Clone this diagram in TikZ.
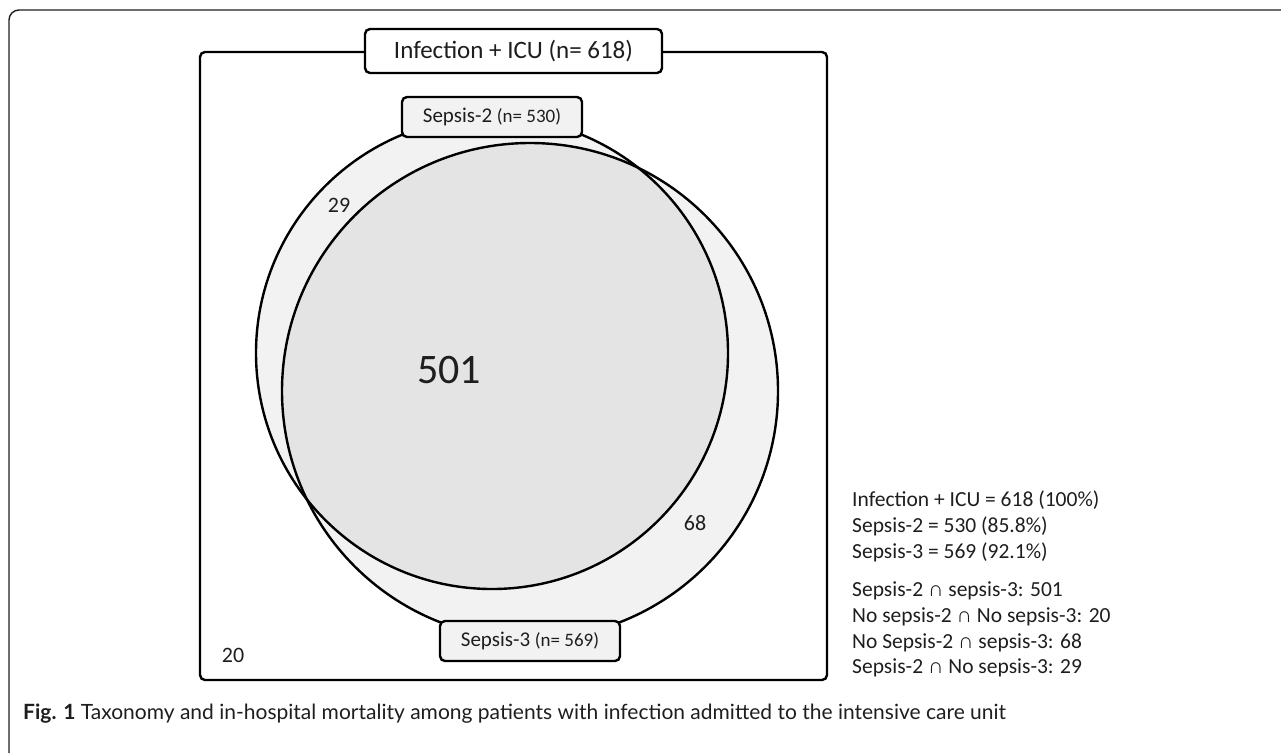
\documentclass[tikz,border=0pt]{standalone}
\usepackage{fontspec}
\setmainfont{Carlito}
\newfontfamily\capfont{Liberation Sans}
\newfontfamily\captionfont{Lato}
\usetikzlibrary{positioning}
\definecolor{unionfill}{HTML}{F2F2F2}
\definecolor{capfill}{HTML}{E4E4E4}
\definecolor{inkgray}{HTML}{1E1E1E}
\newcommand{\fsz}[1]{\fontsize{#1}{1.2\dimexpr#1pt\relax}\selectfont}
\newcommand{\capsym}{{\capfont\char"2229}}

\begin{document}
\begin{tikzpicture}[x=1pt,y=-1pt,
  every node/.style={text=inkgray},
  boxline/.style={draw=black,line width=2.4pt,rounded corners=5pt},
  setbox/.style={boxline,fill=unionfill,minimum width=180pt,minimum height=40pt,inner sep=0pt},
  venn/.style={draw=black,line width=2.4pt},
  legline/.style={anchor=west,inner sep=0pt,font=\fsz{21.5}}]
\useasboundingbox (0,0) rectangle (1281,753);

% page frame
\draw[line width=1.4pt,draw=inkgray,rounded corners=10pt] (9,753) -- (9,10) -- (1290,10);

% universe box
\coordinate (BoxNW) at (200,52);
\coordinate (BoxSE) at (827,680);
\draw[boxline] (BoxNW) rectangle (BoxSE);

% the two sets
\coordinate (cA) at (492,353);
\coordinate (cB) at (530,391);
\fill[unionfill] (cA) circle [radius=236pt];
\fill[unionfill] (cB) circle [radius=248pt];
\begin{scope}
  \clip (cA) circle [radius=236pt];
  \fill[capfill] (cB) circle [radius=248pt];
\end{scope}
\draw[venn] (cA) circle [radius=236pt];
\draw[venn] (cB) circle [radius=248pt];

% set labels
\node[boxline,fill=white,minimum width=297pt,minimum height=44pt,inner sep=0pt,font=\fsz{25}]
  (icu) at (513.5,51) {Infection + ICU (n= 618)};
\node[setbox,font=\fsz{21}] (sepsis2) at (492,117) {Sepsis-2 {\fsz{19}(n= 530)}};
\node[setbox,font=\fsz{21}] (sepsis3) at (530,641) {Sepsis-3 {\fsz{19}(n= 569)}};

% counts
\node[font=\fsz{22}] (n29) at (339,205) {29};
\node[font=\fsz{42}] (n501) at (449,370) {501};
\node[font=\fsz{22}] (n68) at (695,523) {68};
\node[font=\fsz{22}] (n20) at (233,655) {20};

% legend
\foreach \y/\t [count=\i] in {500/{Infection + ICU = 618 (100\%)},
    526/{Sepsis-2 = 530 (85.8\%)},
    552/{Sepsis-3 = 569 (92.1\%)},
    591/{Sepsis-2 \capsym\ sepsis-3: 501},
    617/{No sepsis-2 \capsym\ No sepsis-3: 20},
    643/{No Sepsis-2 \capsym\ sepsis-3: 68},
    668/{Sepsis-2 \capsym\ No sepsis-3: 29}}
  \node[legline] (leg\i) at (852,\y) {\t};

% caption
\node[anchor=base west,inner sep=0pt,font=\captionfont\fsz{21}] (caption) at (23,719)
  {\textbf{Fig. 1} Taxonomy and in-hospital mortality among patients with infection admitted to the intensive care unit};
\end{tikzpicture}
\end{document}
